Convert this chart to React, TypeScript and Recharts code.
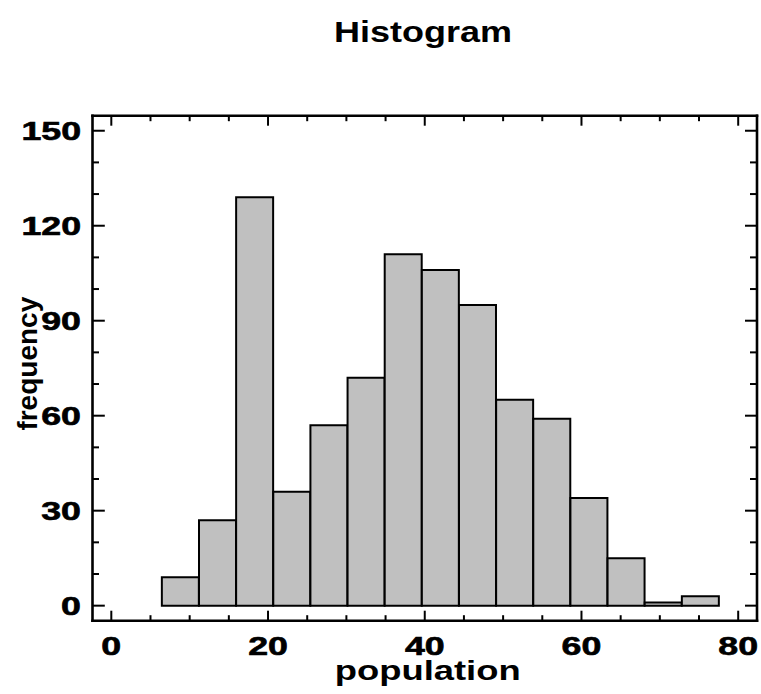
import React from 'react';
import { ComposedChart, Bar, XAxis, YAxis } from 'recharts';

// ---- data ----
const binCenters = [8.82, 13.56, 18.3, 23.04, 27.78, 32.52, 37.26, 42.0, 46.74, 51.48, 56.22, 60.96, 65.7, 70.44, 75.18];
const frequencies = [9, 27, 129, 36, 57, 72, 111, 106, 95, 65, 59, 34, 15, 1, 3];
const xTicks = [0, 5, 10, 15, 20, 25, 30, 35, 40, 45, 50, 55, 60, 65, 70, 75, 80];
const xLabelTicks = [0, 20, 40, 60, 80];
const yTicks = [0, 10, 20, 30, 40, 50, 60, 70, 80, 90, 100, 110, 120, 130, 140, 150];
const yLabelTicks = [0, 30, 60, 90, 120, 150];
const chartTitle = 'Histogram';
const xTitle = 'population';
const yTitle = 'frequency';

const data = binCenters.map((c, i) => ({ center: c, frequency: frequencies[i] }));

const FONT = '"Liberation Sans", Arial, Helvetica, sans-serif';
const TICK_FS = 25;
const TICK_SX = 1.43;

const BottomTick = (props: any) => {
  const { x, y, payload } = props;
  const v = payload.value;
  const major = xLabelTicks.includes(v);
  return (
    <g>
      <line x1={x} x2={x} y1={y} y2={y - (major ? 10 : 5.5)} stroke="#000" strokeWidth={2} />
      {major && (
        <text
          transform={`translate(${x},${y + 34}) scale(${TICK_SX},1)`}
          textAnchor="middle"
          fontFamily={FONT}
          fontWeight="bold"
          fontSize={TICK_FS}
          fill="#000"
          stroke="#000"
          strokeWidth={0.6}
        >
          {v}
        </text>
      )}
    </g>
  );
};

const TopTick = (props: any) => {
  const { x, y, payload } = props;
  const major = xLabelTicks.includes(payload.value);
  return <line x1={x} x2={x} y1={y} y2={y + (major ? 10 : 5.5)} stroke="#000" strokeWidth={2} />;
};

const LeftTick = (props: any) => {
  const { x, y, payload } = props;
  const v = payload.value;
  const major = yLabelTicks.includes(v);
  return (
    <g>
      <line x1={x} x2={x + (major ? 12.3 : 6.5)} y1={y} y2={y} stroke="#000" strokeWidth={2} />
      {major && (
        <text
          transform={`translate(${x - 11.5},${y + 8.9}) scale(${TICK_SX},1)`}
          textAnchor="end"
          fontFamily={FONT}
          fontWeight="bold"
          fontSize={TICK_FS}
          fill="#000"
          stroke="#000"
          strokeWidth={0.6}
        >
          {v}
        </text>
      )}
    </g>
  );
};

const RightTick = (props: any) => {
  const { x, y, payload } = props;
  const major = yLabelTicks.includes(payload.value);
  return <line x1={x} x2={x - (major ? 12 : 7)} y1={y} y2={y} stroke="#000" strokeWidth={2} />;
};

const frameLine = { stroke: '#000', strokeWidth: 2.6, strokeLinecap: 'square' as const };

export default function App() {
  return (
    <div style={{ position: 'absolute', left: 0, top: 0, width: 761, height: 694, background: '#fff' }}>
      <ComposedChart
        width={761}
        height={694}
        data={data}
        margin={{ top: 0, right: 0, bottom: 0, left: 0 }}
        barCategoryGap={0}
        barGap={0}
      >
        <XAxis
          xAxisId="bottom"
          dataKey="center"
          type="number"
          orientation="bottom"
          domain={[-2.4, 82.4]}
          allowDataOverflow
          ticks={xTicks}
          interval={0}
          height={73.3}
          tickSize={0}
          tickMargin={0}
          tickLine={false}
          axisLine={frameLine}
          tick={BottomTick}
        />
        <XAxis
          xAxisId="top"
          dataKey="center"
          type="number"
          orientation="top"
          domain={[-2.4, 82.4]}
          allowDataOverflow
          ticks={xTicks}
          interval={0}
          height={115.7}
          tickSize={0}
          tickMargin={0}
          tickLine={false}
          axisLine={frameLine}
          tick={TopTick}
        />
        <YAxis
          yAxisId="left"
          type="number"
          orientation="left"
          domain={[-4.75, 154.75]}
          allowDataOverflow
          ticks={yTicks}
          interval={0}
          width={92.5}
          tickSize={0}
          tickMargin={0}
          tickLine={false}
          axisLine={frameLine}
          tick={LeftTick}
        />
        <YAxis
          yAxisId="right"
          type="number"
          orientation="right"
          domain={[-4.75, 154.75]}
          allowDataOverflow
          ticks={yTicks}
          interval={0}
          width={4}
          tickSize={0}
          tickMargin={0}
          tickLine={false}
          axisLine={frameLine}
          tick={RightTick}
        />
        <Bar
          xAxisId="bottom"
          yAxisId="left"
          dataKey="frequency"
          fill="#C0C0C0"
          stroke="#000"
          strokeWidth={2}
          isAnimationActive={false}
        />
        <text
          transform="translate(423,41.7) scale(1.2,1)"
          textAnchor="middle"
          fontFamily={FONT}
          fontWeight="bold"
          fontSize={30}
          fill="#000"
        >
          {chartTitle}
        </text>
        <text
          transform="translate(427.7,680) scale(1.3,1)"
          textAnchor="middle"
          fontFamily={FONT}
          fontWeight="bold"
          fontSize={28}
          fill="#000"
        >
          {xTitle}
        </text>
        <text
          transform="translate(37.1,363.7) rotate(-90)"
          textAnchor="middle"
          fontFamily={FONT}
          fontWeight="bold"
          fontSize={28}
          fill="#000"
        >
          {yTitle}
        </text>
      </ComposedChart>
    </div>
  );
}
